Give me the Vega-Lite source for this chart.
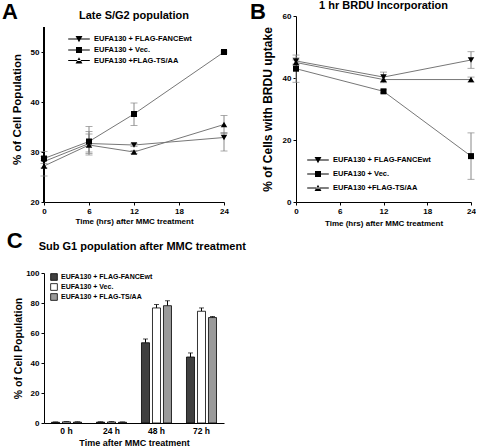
{
  "$schema": "https://vega.github.io/schema/vega-lite/v6.json",
  "padding": {"left": 2, "top": 0, "right": 0, "bottom": 0},
  "background": "white",
  "config": {
    "font": "Liberation Sans",
    "view": {"stroke": null},
    "axis": {"grid": false, "domainColor": "black", "tickColor": "black", "labelColor": "black", "titleColor": "black", "labelFontWeight": "bold", "titleFontWeight": "bold", "labelFontSize": 8, "tickSize": 3, "labelPadding": 2, "domainWidth": 1, "labelOverlap": false, "labelBound": false, "labelFlush": false},
    "title": {"fontWeight": "bold", "color": "black", "fontSize": 11},
    "legend": {"labelFontWeight": "bold", "labelColor": "black", "title": null}
  },
  "datasets": {
    "a": [
      {"s": "EUFA130 + FLAG-FANCEwt", "t": 0, "v": 28.1, "lo": 25.2, "hi": 30.1},
      {"s": "EUFA130 + FLAG-FANCEwt", "t": 6, "v": 31.7, "lo": 29.7, "hi": 33.6},
      {"s": "EUFA130 + FLAG-FANCEwt", "t": 12, "v": 31.4, "lo": 31.1, "hi": 31.7},
      {"s": "EUFA130 + FLAG-FANCEwt", "t": 24, "v": 32.9, "lo": 30.2, "hi": 33.9},
      {"s": "EUFA130 + Vec.", "t": 0, "v": 28.7, "lo": 28.3, "hi": 29.1},
      {"s": "EUFA130 + Vec.", "t": 6, "v": 32.1, "lo": 29.4, "hi": 35.1},
      {"s": "EUFA130 + Vec.", "t": 12, "v": 37.6, "lo": 35.3, "hi": 39.8},
      {"s": "EUFA130 + Vec.", "t": 24, "v": 50.0, "lo": 49.8, "hi": 50.2},
      {"s": "EUFA130 +FLAG-TS/AA", "t": 0, "v": 27.2, "lo": 26.8, "hi": 27.7},
      {"s": "EUFA130 +FLAG-TS/AA", "t": 6, "v": 31.4, "lo": 30.0, "hi": 34.1},
      {"s": "EUFA130 +FLAG-TS/AA", "t": 12, "v": 30.0, "lo": 29.7, "hi": 30.3},
      {"s": "EUFA130 +FLAG-TS/AA", "t": 24, "v": 35.5, "lo": 33.7, "hi": 37.3}
    ],
    "b": [
      {"s": "EUFA130 + FLAG-FANCEwt", "t": 0, "v": 45.5, "lo": 44.5, "hi": 46.5},
      {"s": "EUFA130 + FLAG-FANCEwt", "t": 12, "v": 40.3, "lo": 38.8, "hi": 41.9},
      {"s": "EUFA130 + FLAG-FANCEwt", "t": 24, "v": 45.8, "lo": 43.1, "hi": 48.5},
      {"s": "EUFA130 + Vec.", "t": 0, "v": 43.0, "lo": 38.6, "hi": 47.4},
      {"s": "EUFA130 + Vec.", "t": 12, "v": 35.7, "lo": 35.2, "hi": 36.2},
      {"s": "EUFA130 + Vec.", "t": 24, "v": 14.8, "lo": 7.3, "hi": 22.3},
      {"s": "EUFA130 +FLAG-TS/AA", "t": 0, "v": 45.0, "lo": 44.2, "hi": 45.8},
      {"s": "EUFA130 +FLAG-TS/AA", "t": 12, "v": 39.5, "lo": 38.5, "hi": 40.5},
      {"s": "EUFA130 +FLAG-TS/AA", "t": 24, "v": 39.5, "lo": 38.7, "hi": 40.3}
    ],
    "c": [
      {"s": "EUFA130 + FLAG-FANCEwt", "time": "0 h", "v": 0.5, "hi": 0.7},
      {"s": "EUFA130 + Vec.", "time": "0 h", "v": 0.8, "hi": 1.0},
      {"s": "EUFA130 + FLAG-TS/AA", "time": "0 h", "v": 0.6, "hi": 0.8},
      {"s": "EUFA130 + FLAG-FANCEwt", "time": "24 h", "v": 0.6, "hi": 0.8},
      {"s": "EUFA130 + Vec.", "time": "24 h", "v": 0.7, "hi": 0.9},
      {"s": "EUFA130 + FLAG-TS/AA", "time": "24 h", "v": 0.5, "hi": 0.7},
      {"s": "EUFA130 + FLAG-FANCEwt", "time": "48 h", "v": 53.5, "hi": 56.0},
      {"s": "EUFA130 + Vec.", "time": "48 h", "v": 76.7, "hi": 79.0},
      {"s": "EUFA130 + FLAG-TS/AA", "time": "48 h", "v": 78.2, "hi": 81.5},
      {"s": "EUFA130 + FLAG-FANCEwt", "time": "72 h", "v": 44.0, "hi": 46.7},
      {"s": "EUFA130 + Vec.", "time": "72 h", "v": 74.5, "hi": 76.7},
      {"s": "EUFA130 + FLAG-TS/AA", "time": "72 h", "v": 70.3, "hi": 71.0}
    ]
  },
  "spacing": 3,
  "resolve": {"scale": {"shape": "independent", "fill": "independent"}, "legend": {"shape": "independent", "fill": "independent"}},
  "vconcat": [
    {
      "spacing": 21,
      "resolve": {"scale": {"shape": "independent", "fill": "independent"}, "legend": {"shape": "independent", "fill": "independent"}},
      "hconcat": [
        {
          "title": {"text": "A", "fontSize": 22, "anchor": "start", "offset": -14, "dx": -9},
          "resolve": {"scale": {"shape": "independent", "fill": "independent"}, "legend": {"shape": "independent", "fill": "independent"}},
          "vconcat": [
            {
              "width": 180,
              "height": 186,
              "title": {"text": "Late S/G2 population", "fontSize": 11, "offset": 1, "dy": 6},
              "data": {"name": "a"},
              "encoding": {
                "x": {"field": "t", "type": "quantitative", "scale": {"domain": [0, 24]}, "axis": {"values": [0, 6, 12, 18, 24], "title": "Time (hrs) after MMC treatment", "titleFontSize": 8, "titlePadding": 2}}
              },
              "layer": [
                {"mark": {"type": "rule", "color": "#888", "strokeWidth": 1}, "encoding": {"y": {"field": "lo", "type": "quantitative", "scale": {"domain": [20, 57.2], "nice": false}, "title": "% of Cell Population", "axis": {"values": [20, 25, 30, 35, 40, 45, 50, 55], "domain": false, "titleFontSize": 11.5, "titlePadding": 8}}, "y2": {"field": "hi"}}},
                {"mark": {"type": "rule", "color": "black", "strokeWidth": 1}, "encoding": {"x": {"datum": 0, "type": "quantitative"}, "y": {"datum": 20, "type": "quantitative"}, "y2": {"datum": 55}}},
                {"mark": {"type": "tick", "orient": "horizontal", "size": 7, "thickness": 1, "color": "#888"}, "encoding": {"y": {"field": "lo", "type": "quantitative", "title": "% of Cell Population"}}},
                {"mark": {"type": "tick", "orient": "horizontal", "size": 7, "thickness": 1, "color": "#888"}, "encoding": {"y": {"field": "hi", "type": "quantitative", "title": "% of Cell Population"}}},
                {"mark": {"type": "line", "color": "#777", "strokeWidth": 1}, "encoding": {"y": {"field": "v", "type": "quantitative", "title": "% of Cell Population"}, "detail": {"field": "s"}}},
                {"transform": [{"filter": "datum.s === 'EUFA130 + FLAG-FANCEwt'"}], "mark": {"type": "point", "shape": "triangle-down", "filled": true, "color": "black", "size": 42, "opacity": 1}, "encoding": {"y": {"field": "v", "type": "quantitative", "title": "% of Cell Population"}}},
                {"transform": [{"filter": "datum.s === 'EUFA130 + Vec.'"}], "mark": {"type": "point", "shape": "square", "filled": true, "color": "black", "size": 36, "opacity": 1}, "encoding": {"y": {"field": "v", "type": "quantitative", "title": "% of Cell Population"}}},
                {"transform": [{"filter": "datum.s === 'EUFA130 +FLAG-TS/AA'"}], "mark": {"type": "point", "shape": "triangle-up", "filled": true, "color": "black", "size": 42, "opacity": 1}, "encoding": {"y": {"field": "v", "type": "quantitative", "title": "% of Cell Population"}}},
                {"mark": {"type": "point", "filled": true, "color": "black", "opacity": 1, "size": 0}, "encoding": {
                  "y": {"field": "v", "type": "quantitative", "title": "% of Cell Population"},
                  "shape": {"field": "s", "type": "nominal", "scale": {"domain": ["EUFA130 + FLAG-FANCEwt", "EUFA130 + Vec.", "EUFA130 +FLAG-TS/AA"], "range": ["M-3.6,-0.13H3.6V0.13H-3.6ZM-1.15,-1L1.15,-1L0,1.1Z", "M-3.6,-0.13H3.6V0.13H-3.6ZM-1,-1H1V1H-1Z", "M-3.6,-0.13H3.6V0.13H-3.6ZM-1.15,1L1.15,1L0,-1.1Z"]},
                    "legend": {"orient": "top-left", "offset": 19, "padding": 0, "labelFontSize": 7.5, "symbolSize": 36, "symbolFillColor": "black", "symbolOpacity": 1, "symbolOffset": 12, "labelOffset": 11, "rowPadding": -2.5}
                  }
                }}
              ]
            }
          ]
        },
        {
          "title": {"text": "B", "fontSize": 22, "anchor": "start", "offset": -24, "dx": -11},
          "resolve": {"scale": {"shape": "independent", "fill": "independent"}, "legend": {"shape": "independent", "fill": "independent"}},
          "vconcat": [
            {
              "width": 175,
              "height": 186,
              "title": {"text": "1 hr BRDU Incorporation", "fontSize": 11, "offset": 1},
              "data": {"name": "b"},
              "encoding": {
                "x": {"field": "t", "type": "quantitative", "scale": {"domain": [0, 24]}, "axis": {"values": [0, 6, 12, 18, 24], "title": "Time (hrs) after MMC treatment", "titleFontSize": 8, "titlePadding": 4}}
              },
              "layer": [
                {"mark": {"type": "rule", "color": "#888", "strokeWidth": 1}, "encoding": {"y": {"field": "lo", "type": "quantitative", "scale": {"domain": [0, 60]}, "title": "% of Cells with BRDU uptake", "axis": {"values": [0, 10, 20, 30, 40, 50, 60], "titleFontSize": 12, "titlePadding": 8}}, "y2": {"field": "hi"}}},
                {"mark": {"type": "tick", "orient": "horizontal", "size": 7, "thickness": 1, "color": "#888"}, "encoding": {"y": {"field": "lo", "type": "quantitative", "title": "% of Cells with BRDU uptake"}}},
                {"mark": {"type": "tick", "orient": "horizontal", "size": 7, "thickness": 1, "color": "#888"}, "encoding": {"y": {"field": "hi", "type": "quantitative", "title": "% of Cells with BRDU uptake"}}},
                {"mark": {"type": "line", "color": "#777", "strokeWidth": 1}, "encoding": {"y": {"field": "v", "type": "quantitative", "title": "% of Cells with BRDU uptake"}, "detail": {"field": "s"}}},
                {"transform": [{"filter": "datum.s === 'EUFA130 + FLAG-FANCEwt'"}], "mark": {"type": "point", "shape": "triangle-down", "filled": true, "color": "black", "size": 42, "opacity": 1}, "encoding": {"y": {"field": "v", "type": "quantitative", "title": "% of Cells with BRDU uptake"}}},
                {"transform": [{"filter": "datum.s === 'EUFA130 + Vec.'"}], "mark": {"type": "point", "shape": "square", "filled": true, "color": "black", "size": 36, "opacity": 1}, "encoding": {"y": {"field": "v", "type": "quantitative", "title": "% of Cells with BRDU uptake"}}},
                {"transform": [{"filter": "datum.s === 'EUFA130 +FLAG-TS/AA'"}], "mark": {"type": "point", "shape": "triangle-up", "filled": true, "color": "black", "size": 42, "opacity": 1}, "encoding": {"y": {"field": "v", "type": "quantitative", "title": "% of Cells with BRDU uptake"}}},
                {"mark": {"type": "point", "filled": true, "color": "black", "opacity": 1, "size": 0}, "encoding": {
                  "y": {"field": "v", "type": "quantitative", "title": "% of Cells with BRDU uptake"},
                  "shape": {"field": "s", "type": "nominal", "scale": {"domain": ["EUFA130 + FLAG-FANCEwt", "EUFA130 + Vec.", "EUFA130 +FLAG-TS/AA"], "range": ["M-3.6,-0.13H3.6V0.13H-3.6ZM-1.15,-1L1.15,-1L0,1.1Z", "M-3.6,-0.13H3.6V0.13H-3.6ZM-1,-1H1V1H-1Z", "M-3.6,-0.13H3.6V0.13H-3.6ZM-1.15,1L1.15,1L0,-1.1Z"]},
                    "legend": {"orient": "bottom-left", "offset": 8, "padding": 0, "labelFontSize": 7.5, "symbolSize": 36, "symbolFillColor": "black", "symbolOpacity": 1, "symbolOffset": 10, "labelOffset": 11, "rowPadding": 1}
                  }
                }}
              ]
            }
          ]
        }
      ]
    },
    {
      "title": {"text": "C", "fontSize": 22, "anchor": "start", "offset": -12, "dx": -7},
      "resolve": {"scale": {"shape": "independent", "fill": "independent"}, "legend": {"shape": "independent", "fill": "independent"}},
      "vconcat": [
        {
          "width": 180,
          "height": 150,
          "title": {"text": "Sub G1 population after MMC treatment", "fontSize": 11, "offset": 17, "anchor": "start", "dx": 25},
          "data": {"name": "c"},
          "encoding": {
            "x": {"field": "time", "type": "nominal", "sort": ["0 h", "24 h", "48 h", "72 h"], "scale": {"paddingInner": 0.3333, "paddingOuter": 0.1667}, "axis": {"title": "Time after MMC treatment", "labelAngle": 0, "ticks": false, "labelPadding": 3, "labelFontSize": 8.5, "titleFontSize": 9, "titlePadding": 4}},
            "xOffset": {"field": "s", "type": "nominal", "sort": ["EUFA130 + FLAG-FANCEwt", "EUFA130 + Vec.", "EUFA130 + FLAG-TS/AA"], "scale": {"paddingInner": 0.27, "paddingOuter": 0}}
          },
          "layer": [
            {"mark": {"type": "rule", "color": "black", "strokeWidth": 1}, "encoding": {"y": {"field": "v", "type": "quantitative", "title": "% of Cell Population", "scale": {"domain": [0, 100], "nice": false}, "axis": {"tickCount": 5, "titleFontSize": 10.5, "titlePadding": 2}}, "y2": {"field": "hi"}}},
            {"mark": {"type": "tick", "orient": "horizontal", "size": 5, "thickness": 1, "color": "black"}, "encoding": {"y": {"field": "hi", "type": "quantitative", "title": "% of Cell Population"}}},
            {"mark": {"type": "bar", "stroke": "black", "strokeWidth": 0.8}, "encoding": {
              "y": {"field": "v", "type": "quantitative", "title": "% of Cell Population", "stack": null},
              "fill": {"field": "s", "type": "nominal", "scale": {"domain": ["EUFA130 + FLAG-FANCEwt", "EUFA130 + Vec.", "EUFA130 + FLAG-TS/AA"], "range": ["#404040", "#ffffff", "#9a9a9a"]},
                "legend": {"orient": "top-left", "offset": 0, "padding": 0, "labelFontSize": 7, "symbolType": "square", "symbolSize": 45, "symbolStrokeColor": "black", "symbolStrokeWidth": 0.8, "labelOffset": 3, "rowPadding": 0, "symbolOffset": 6}}
            }}
          ]
        }
      ]
    }
  ]
}
